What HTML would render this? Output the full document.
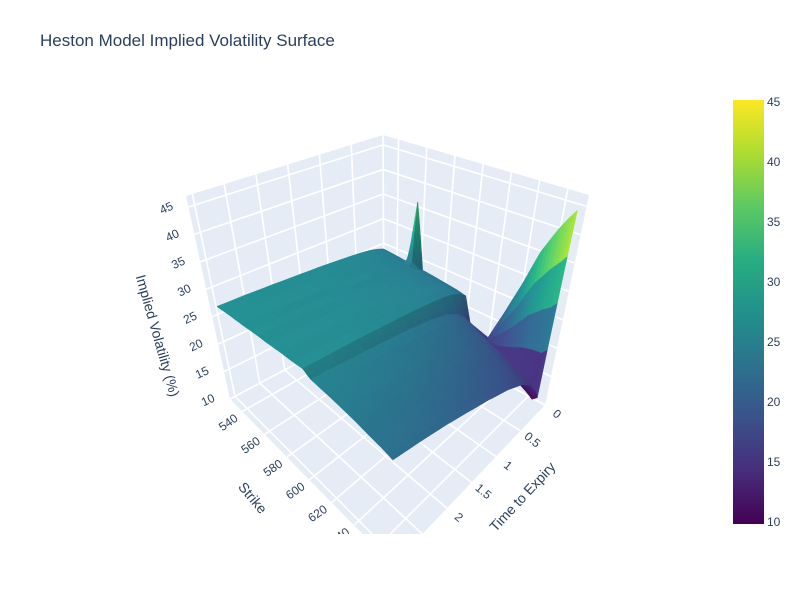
<!DOCTYPE html>
<html><head><meta charset="utf-8">
<style>
body{margin:0;background:#fff;}
svg text{font-family:"Liberation Sans",sans-serif;fill:#2a3f5f;}
</style></head>
<body>
<svg id="chart" width="800" height="600" viewBox="0 0 800 600" xmlns="http://www.w3.org/2000/svg">
<defs>
<linearGradient id="vir" x1="0" y1="1" x2="0" y2="0">
<stop offset="0" stop-color="#440154"/><stop offset="0.125" stop-color="#472d7b"/><stop offset="0.25" stop-color="#3b528b"/><stop offset="0.375" stop-color="#2c728e"/><stop offset="0.5" stop-color="#21918c"/><stop offset="0.625" stop-color="#28ae80"/><stop offset="0.75" stop-color="#5ec962"/><stop offset="0.875" stop-color="#addc30"/><stop offset="1" stop-color="#fde725"/>
</linearGradient>
<clipPath id="sceneclip"><rect x="0" y="60" width="700" height="474"/></clipPath>
</defs>
<text x="40" y="46" font-size="17">Heston Model Implied Volatility Surface</text>
<g clip-path="url(#sceneclip)">
<g id="panes"></g>
<g id="grid"></g>
<g id="surf"></g>
<g id="labels"></g>
<text font-size="14" transform="translate(153,337) rotate(74)" text-anchor="middle">Implied Volatility (%)</text>
<text font-size="14" transform="translate(249,501) rotate(50)" text-anchor="middle">Strike</text>
<text font-size="14" transform="translate(526,500) rotate(-47)" text-anchor="middle">Time to Expiry</text>
</g>
<rect x="733" y="100" width="31" height="424" fill="url(#vir)"/>
<g id="cbticks"></g>
</svg>
<script>
const strikes = [530,540,550,556,562,570,580,590,598,604,612,620,630,640,650,660,666,670];
const times = [0.02,0.08,0.15,0.3,0.5,0.8,1.2,1.6,2.0,2.5,3.0];
const iv002 = [24,23.8,23.5,36,23.2,23,22.7,22.4,22,17.5,17,16.5,22,28,35,40,42.5,44];
const iv008 = [24.3,24.1,23.9,24.5,23.6,23.4,23.1,22.8,22.5,18,17,16,14.5,13.5,12.5,11.5,10.8,11.5];
const iv015 = [24.6,24.4,24.2,24.1,24,23.8,23.6,23.4,23.2,19.5,18.7,17.8,16.8,15.8,14.8,13.9,13.4,13.1];
const iv030 = [25,24.9,24.7,24.6,24.5,24.4,24.2,24.1,23.9,21,20.5,19.8,19,18.2,17.3,16.4,15.9,15.5];
const iv050 = [25.3,25.2,25.1,25,24.9,24.8,24.7,24.6,24.4,22.2,21.7,21.1,20.4,19.6,18.8,18,17.5,17.2];
const iv080 = [25.6,25.5,25.4,25.4,25.3,25.2,25.1,25,24.9,23.1,22.7,22.2,21.5,20.8,20,19.3,18.9,18.6];
const iv120 = [25.9,25.8,25.7,25.7,25.6,25.6,25.5,25.4,25.3,23.8,23.5,23,22.4,21.8,21.1,20.4,20,19.8];
const iv160 = [26.1,26,26,25.9,25.9,25.8,25.8,25.7,25.6,24.3,24,23.6,23.1,22.5,21.9,21.3,20.9,20.7];
const iv200 = [26.3,26.2,26.2,26.1,26.1,26,26,25.9,25.9,24.7,24.4,24,23.6,23.1,22.5,22,21.7,21.5];
const iv250 = [26.5,26.4,26.4,26.3,26.3,26.2,26.2,26.1,26.1,25.1,24.8,24.5,24.1,23.6,23.1,22.6,22.4,22.2];
const iv300 = [26.6,26.6,26.5,26.5,26.5,26.4,26.4,26.3,26.3,25.5,25.2,24.9,24.5,24.1,23.6,23.2,22.9,22.7];
const ivRows = [iv002,iv008,iv015,iv030,iv050,iv080,iv120,iv160,iv200,iv250,iv300];
const zTicks = [10,15,20,25,30,35,40,45];
const strikeTicks = [540,560,580,600,620,640,660];
const timeTicks = [0,0.5,1,1.5,2,2.5,3];
const timeTickLabels = ["0","0.5","1","1.5","2","",""];
const cbTicks = [10,15,20,25,30,35,40,45];

const SMIN=529,SMAX=675,TMIN=0,TMAX=3.1,ZMIN=10,ZMAX=47;
const B00=[384,317],B01=[230,399],B10=[545,405],B11=[393,565];
const T00=[383,135],T01=[186,196],T10=[589,195],T11=[395,285];
function bil(a,b,c,d,s,t){
  return [a[0]*(1-s)*(1-t)+b[0]*(1-s)*t+c[0]*s*(1-t)+d[0]*s*t,
          a[1]*(1-s)*(1-t)+b[1]*(1-s)*t+c[1]*s*(1-t)+d[1]*s*t];
}
function P(s,t,w){
  const b=bil(B00,B01,B10,B11,s,t), u=bil(T00,T01,T10,T11,s,t);
  return [b[0]+(u[0]-b[0])*w, b[1]+(u[1]-b[1])*w];
}
const sx=k=>(k-SMIN)/(SMAX-SMIN), ty=t=>(t-TMIN)/(TMAX-TMIN), wz=z=>(z-ZMIN)/(ZMAX-ZMIN);
const NS='http://www.w3.org/2000/svg';
function mk(tag,attrs,parent){const e=document.createElementNS(NS,tag);for(const k in attrs)e.setAttribute(k,attrs[k]);parent.appendChild(e);return e;}
const pts=a=>a.map(p=>p[0].toFixed(1)+','+p[1].toFixed(1)).join(' ');

const panes=document.getElementById('panes');
let e;
e=mk('polygon',{points:pts([P(0,0,0),P(0,1,0),P(1,1,0),P(1,0,0)]),fill:'#e5ecf6'},panes);


e=mk('polygon',{points:pts([P(0,0,0),P(0,1,0),P(0,1,1),P(0,0,1)]),fill:'#e5ecf6'},panes);


e=mk('polygon',{points:pts([P(0,0,0),P(1,0,0),P(1,0,1),P(0,0,1)]),fill:'#e5ecf6'},panes);



const grid=document.getElementById('grid');
function gl(a,b){const l=mk('line',{x1:a[0],y1:a[1],x2:b[0],y2:b[1],stroke:'#fff','stroke-width':1.6},grid);

}
zTicks.forEach(z=>{const w=wz(z);gl(P(0,0,w),P(0,1,w));gl(P(0,0,w),P(1,0,w));});
strikeTicks.forEach(k=>{const s=sx(k);gl(P(s,0,0),P(s,1,0));gl(P(s,0,0),P(s,0,1));});
timeTicks.forEach(t=>{const v=ty(t);gl(P(0,v,0),P(1,v,0));gl(P(0,v,0),P(0,v,1));});

function vir(v){
  const st=[[68,1,84],[71,45,123],[59,82,139],[44,114,142],[33,145,140],[40,174,128],[94,201,98],[173,220,48],[253,231,37]];
  v=Math.max(0,Math.min(1,v))*8;const i=Math.min(7,Math.floor(v)),f=v-i;
  return st[i].map((c,j)=>c+(st[i+1][j]-c)*f);
}
const surf=document.getElementById('surf');
const parents=[];
const SUB=4;
for(let j=0;j<times.length-1;j++)for(let i=0;i<strikes.length-1;i++){
  const s0=sx(strikes[i]),s1=sx(strikes[i+1]),t0=ty(times[j]),t1=ty(times[j+1]);
  const z00=ivRows[j][i],z10=ivRows[j][i+1],z01=ivRows[j+1][i],z11=ivRows[j+1][i+1];
  const ds=Math.max(1e-3,s1-s0);
  const gs=((z10+z11)-(z00+z01))/2/37/ds*0.5;
  const neg=Math.min(0,gs);
  const sh=1.06+0.3*neg/(Math.abs(neg)+0.4);
  const Zf=(a,b)=>z00*(1-a)*(1-b)+z10*a*(1-b)+z01*(1-a)*b+z11*a*b;
  const subs=[];
  for(let a=0;a<SUB;a++)for(let b=0;b<SUB;b++){
    const A=[a/SUB,(a+1)/SUB],Bv=[b/SUB,(b+1)/SUB];
    const corners=[[A[0],Bv[0]],[A[1],Bv[0]],[A[1],Bv[1]],[A[0],Bv[1]]];
    const S=corners.map(c=>s0+(s1-s0)*c[0]),Tt=corners.map(c=>t0+(t1-t0)*c[1]),Z=corners.map(c=>Zf(c[0],c[1]));
    subs.push({S,Tt,Z,d:a+b});
  }
  subs.sort((x,y)=>x.d-y.d);
  parents.push({subs,sh,d:(s0+s1)/2+(t0+t1)/2});
}
parents.sort((a,b)=>a.d-b.d);
parents.forEach(par=>par.subs.forEach(q=>{
  const p=q.S.map((s,k)=>P(s,q.Tt[k],wz(q.Z[k])));
  const zm=(q.Z[0]+q.Z[1]+q.Z[2]+q.Z[3])/4;
  const col=vir((zm-10)/35).map(c=>Math.round(Math.min(255,c*par.sh)));
  const f='rgb('+col.join(',')+')';
  const pg=mk('polygon',{points:pts(p),fill:f,stroke:f,'stroke-width':0.7,'stroke-linejoin':'round'},surf);
  
  
}));

const labels=document.getElementById('labels');
zTicks.forEach(z=>{const p=P(0,1,wz(z));
  const t=mk('text',{x:p[0]-22,y:p[1]+5,'font-size':12,'text-anchor':'middle',transform:`rotate(-25 ${p[0]-22} ${p[1]+1})`},labels);
  t.textContent=z;
  
  });
strikeTicks.forEach(k=>{const p=P(sx(k),1,0);
  const t=mk('text',{x:p[0]-14,y:p[1]+15,'font-size':12,'text-anchor':'middle',transform:`rotate(-35 ${p[0]-14} ${p[1]+11})`},labels);
  t.textContent=k;
  
  });
timeTicks.forEach((tt,i)=>{const p=P(1,ty(tt),0);
  const t=mk('text',{x:p[0]+12,y:p[1]+13,'font-size':12,'text-anchor':'middle',transform:`rotate(40 ${p[0]+12} ${p[1]+9})`},labels);
  t.textContent=timeTickLabels[i];
  
  });

const cb=document.getElementById('cbticks');
cbTicks.forEach(v=>{const y=522-(v-10)/35*420;
  const t=mk('text',{x:767,y:y+4,'font-size':12},cb);
  t.textContent=v;
  
  });
</script>
</body></html>
